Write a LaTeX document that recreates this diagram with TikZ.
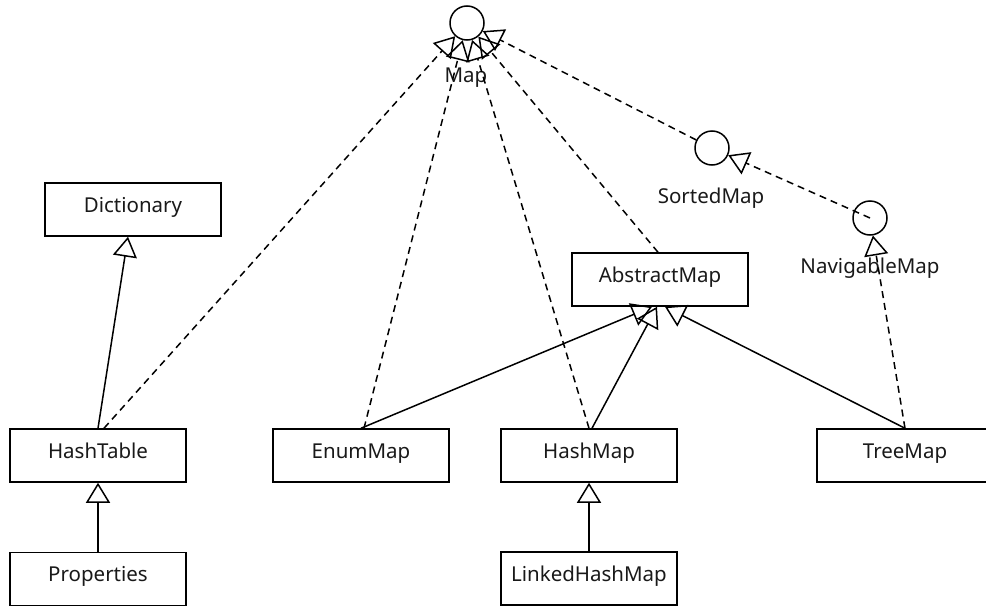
\documentclass[tikz,border=0pt]{standalone}
\usepackage{fontspec}
\setmainfont{Noto Sans}
\usetikzlibrary{arrows.meta}

\begin{document}
\begin{tikzpicture}[x=1pt,y=-1pt,line width=1.5pt,
    every node/.style={font=\fontsize{20.5}{24}\selectfont,text=black!90},
    cls/.style={draw=black,rectangle,minimum width=176pt,minimum height=53pt,inner sep=0pt,
        text height=15pt,text depth=10pt},
    iface/.style={draw=black,circle,minimum size=34pt,inner sep=0pt},
    lbl/.style={anchor=base,inner sep=0pt},
    realize/.style={-{Triangle[open,length=20pt,width=24pt]},dash pattern=on 7pt off 5pt},
    inherit/.style={-{Triangle[open,length=20pt,width=24pt]}}]
        \useasboundingbox (0,0) rectangle (986,608);
        % interfaces
        \node[iface](map) at (467,23){};
        \node[lbl](map_l) at (466,82){Map};
        \node[iface](sm) at (712,148){};
        \node[lbl](sm_l) at (711,203){SortedMap};
        \node[iface](nav) at (870,218){};
        \node[lbl](nav_l) at (870,273){NavigableMap};
        % classes
        \node[cls](dict) at (133,209.5){Dictionary};
        \node[cls](am) at (660,279.5){AbstractMap};
        \node[cls](ht) at (98,455.5){HashTable};
        \node[cls](em) at (361,455.5){EnumMap};
        \node[cls](hm) at (589,455.5){HashMap};
        \node[cls](tm) at (905,455.5){TreeMap};
        \node[cls](prop) at (98,579){Properties};
        \node[cls](lhm) at (589,578.5){LinkedHashMap};
        % implements
        \draw[realize] ([xshift=6pt]ht.north) -- (map);
        \draw[realize] ([xshift=3pt]em.north) -- (map);
        \draw[realize] (hm.north) -- (map);
        \draw[realize] ([xshift=-2pt]am.north) -- (map);
        \draw[realize] (sm) -- (map);
        \draw[realize] (nav.center) -- (sm);
        \draw[realize] (tm.north) -- (nav);
        % extends
        \draw[inherit] (ht.north) -- ([xshift=-5pt]dict.south);
        \draw[inherit] (prop.north) -- (ht.south);
        \draw[inherit] (em.north) -- ([xshift=-8pt]am.south);
        \draw[inherit] ([xshift=3pt]hm.north) -- ([xshift=-3pt]am.south);
        \draw[inherit] (tm.north) -- ([xshift=5pt]am.south);
        \draw[inherit] (lhm.north) -- (hm.south);
    \end{tikzpicture}
\end{document}
